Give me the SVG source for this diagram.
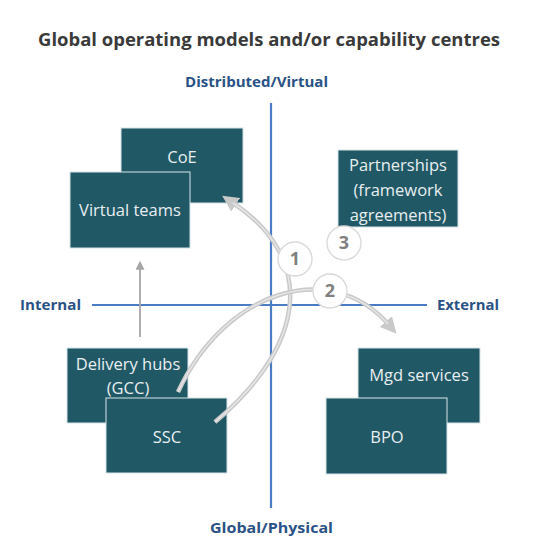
<svg xmlns="http://www.w3.org/2000/svg" width="546" height="556" viewBox="0 0 546 556">
<style>
.box{fill:#215866;stroke:#d6e3e8;stroke-width:1}
.bt{font-family:"Open Sans","Liberation Sans",sans-serif;font-size:16.5px;fill:#e8eef0;text-anchor:middle}
.ax{font-family:"Open Sans","Liberation Sans",sans-serif;font-size:15px;font-weight:bold;fill:#2a5286}
.axis{stroke:#4a7dc4;stroke-width:2.2;fill:none}
.arc{fill:none;stroke:#c9c9c9;stroke-width:4.5}
.arcHi{fill:none;stroke:#e6e6e6;stroke-width:1.5}
.num{fill:#ffffff;stroke:#d9d9d9;stroke-width:1.3}
.nt{font-family:"Open Sans","Liberation Sans",sans-serif;font-size:18px;font-weight:bold;fill:#7f7f7f;text-anchor:middle}
</style>
<defs>
<marker id="ah" viewBox="0 0 10 10" refX="2" refY="5" markerWidth="3.6" markerHeight="3.6" orient="auto" markerUnits="strokeWidth">
<path d="M0,0 L10,5 L0,10 Z" fill="#c9c9c9"/>
</marker>
<marker id="ahs" viewBox="0 0 10 10" refX="2" refY="5" markerWidth="5" markerHeight="5" orient="auto" markerUnits="strokeWidth">
<path d="M0,0 L10,5 L0,10 Z" fill="#a6a6a6"/>
</marker>
</defs>
<rect width="546" height="556" fill="#ffffff"/>
<text x="38" y="46" textLength="462" lengthAdjust="spacingAndGlyphs" font-family="'Open Sans','Liberation Sans',sans-serif" font-size="17.5" font-weight="bold" fill="#3a3a3a">Global operating models and/or capability centres</text>
<g id="axes">
<line class="axis" x1="271" y1="103" x2="271" y2="508"/>
<line class="axis" x1="92" y1="305" x2="427" y2="305"/>
<text class="ax" x="185" y="87" textLength="143" lengthAdjust="spacingAndGlyphs">Distributed/Virtual</text>
<text class="ax" x="210" y="533" textLength="123" lengthAdjust="spacingAndGlyphs">Global/Physical</text>
<text class="ax" x="20" y="310" textLength="61" lengthAdjust="spacingAndGlyphs">Internal</text>
<text class="ax" x="437" y="310" textLength="62" lengthAdjust="spacingAndGlyphs">External</text>
</g>
<g id="n-coe"><rect class="box" x="121" y="128" width="122" height="75"/><text class="bt" x="182" y="163">CoE</text></g>
<g id="n-virtual"><rect class="box" x="70" y="172" width="120" height="76"/><text class="bt" x="130" y="216">Virtual teams</text></g>
<g id="n-partner"><rect class="box" x="338" y="150" width="120" height="77"/><text class="bt" x="398" y="171">Partnerships</text><text class="bt" x="398" y="196">(framework</text><text class="bt" x="398" y="221">agreements)</text></g>
<g id="n-hubs"><rect class="box" x="67" y="348" width="121" height="75"/><text class="bt" x="128" y="370">Delivery hubs</text><text class="bt" x="128" y="394">(GCC)</text></g>
<g id="n-mgd"><rect class="box" x="358" y="348" width="122" height="75"/><text class="bt" x="419" y="381">Mgd services</text></g>
<g id="n-ssc"><rect class="box" x="106" y="398" width="121" height="75"/><text class="bt" x="167" y="443">SSC</text></g>
<g id="n-bpo"><rect class="box" x="326" y="398" width="121" height="76"/><text class="bt" x="387" y="443">BPO</text></g>
<g id="connectors">
<line x1="140" y1="337" x2="140" y2="268" stroke="#a6a6a6" stroke-width="1.8" marker-end="url(#ahs)"/>
<path class="arc" d="M215,422 C312,340 312,255 233,203" marker-end="url(#ah)"/>
<path class="arcHi" d="M215,422 C312,340 312,255 233,203"/>
<path class="arc" d="M178,392 C225,290 330,258 388,324" marker-end="url(#ah)"/>
<path class="arcHi" d="M178,392 C225,290 330,258 388,324"/>
</g>
<g id="badges">
<circle class="num" cx="295" cy="259" r="17"/><text class="nt" x="295" y="265">1</text>
<circle class="num" cx="330" cy="291" r="17"/><text class="nt" x="330" y="297">2</text>
<circle class="num" cx="344" cy="243" r="17"/><text class="nt" x="344" y="249">3</text>
</g>
</svg>
